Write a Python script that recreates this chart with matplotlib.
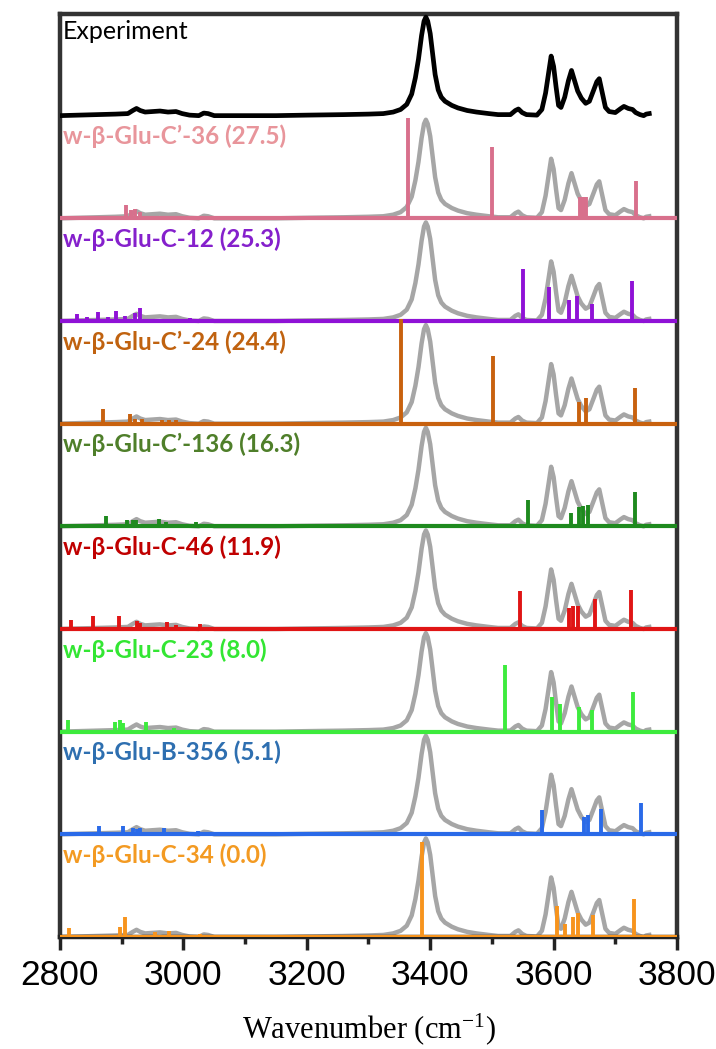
import numpy as np
import matplotlib.pyplot as plt

plt.rcParams['mathtext.fontset'] = 'custom'
plt.rcParams['mathtext.rm'] = 'Liberation Serif'
plt.rcParams['mathtext.it'] = 'Liberation Serif:italic'

spec_wn = [2800, 2830, 2860, 2890, 2910, 2918, 2924, 2930, 2938, 2950, 2962, 2975, 2988, 2998,
           3010, 3025, 3033, 3040, 3050, 3100, 3150, 3200, 3260, 3300, 3324, 3340, 3352, 3362,
           3370, 3376, 3381, 3386, 3390, 3393, 3396, 3400, 3404, 3408, 3413, 3418, 3424, 3435,
           3445, 3460, 3475, 3495, 3510, 3530, 3538, 3543, 3549, 3556, 3573, 3581, 3587, 3592,
           3596, 3600, 3604, 3608, 3612, 3618, 3624, 3629, 3634, 3639, 3645, 3652, 3658, 3665,
           3670, 3674, 3679, 3684, 3690, 3700, 3709, 3714, 3721, 3728, 3733, 3740, 3746, 3750, 3755]
spec_int = [0.0, 0.005, 0.01, 0.015, 0.02, 0.05, 0.07, 0.05, 0.035, 0.04, 0.045, 0.035, 0.04, 0.02,
            0.005, 0.0, 0.025, 0.02, 0.0, 0.0, 0.0, 0.005, 0.01, 0.015, 0.02, 0.035, 0.06, 0.11,
            0.21, 0.37, 0.55, 0.78, 0.92, 0.96, 0.92, 0.80, 0.60, 0.40, 0.25, 0.18, 0.14, 0.10,
            0.075, 0.05, 0.035, 0.02, 0.01, 0.01, 0.05, 0.065, 0.03, 0.01, 0.005, 0.06, 0.22, 0.42,
            0.58, 0.48, 0.28, 0.10, 0.08, 0.18, 0.34, 0.44, 0.34, 0.24, 0.17, 0.12, 0.14, 0.25,
            0.33, 0.36, 0.22, 0.08, 0.04, 0.03, 0.07, 0.09, 0.07, 0.06, 0.03, 0.01, 0.0, 0.015, 0.02]

# computed stick spectra, bottom panel first
labels = ["w-β-Glu-C-34 (0.0)", "w-β-Glu-B-356 (5.1)", "w-β-Glu-C-23 (8.0)",
          "w-β-Glu-C-46 (11.9)", "w-β-Glu-C\u2019-136 (16.3)", "w-β-Glu-C\u2019-24 (24.4)",
          "w-β-Glu-C-12 (25.3)", "w-β-Glu-C\u2019-36 (27.5)"]
bar_colors = ['#f7941d', '#2a6ae8', '#3deb3d', '#e01515', '#1e8a1e', '#c8610e', '#8f12d6', '#d8708c']
text_colors = ['#f39a22', '#2e6fb0', '#33e633', '#c00000', '#4f7f2a', '#c0620f', '#8520cc', '#e8959b']

c34_wn = [2815, 2862, 2897, 2905, 2954, 2977, 3027, 3387, 3606, 3619, 3631, 3639, 3664, 3730]
c34_int = [0.09, 0.02, 0.10, 0.19, 0.05, 0.06, 0.03, 0.93, 0.30, 0.13, 0.19, 0.23, 0.21, 0.37]
b356_wn = [2863, 2902, 2918, 2924, 2929, 2968, 3023, 3582, 3649, 3655, 3677, 3741]
b356_int = [0.08, 0.08, 0.06, 0.05, 0.06, 0.06, 0.03, 0.24, 0.17, 0.19, 0.25, 0.31]
c23_wn = [2813, 2889, 2897, 2902, 2939, 2984, 3522, 3598, 3610, 3641, 3663, 3728]
c23_int = [0.11, 0.09, 0.11, 0.08, 0.09, 0.04, 0.65, 0.34, 0.27, 0.24, 0.21, 0.39]
c46_wn = [2818, 2854, 2896, 2924, 2929, 2973, 2988, 3027, 3545, 3625, 3631, 3640, 3667, 3726]
c46_int = [0.09, 0.13, 0.13, 0.08, 0.06, 0.07, 0.04, 0.05, 0.37, 0.20, 0.22, 0.22, 0.29, 0.38]
c136_wn = [2874, 2908, 2918, 2923, 2961, 2972, 3020, 3558, 3628, 3641, 3647, 3655, 3732]
c136_int = [0.10, 0.065, 0.065, 0.06, 0.07, 0.04, 0.04, 0.26, 0.13, 0.19, 0.20, 0.21, 0.33]
c24_wn = [2870, 2913, 2922, 2933, 2966, 2977, 2988, 3353, 3501, 3641, 3652, 3732]
c24_int = [0.14, 0.09, 0.05, 0.05, 0.04, 0.04, 0.04, 1.02, 0.66, 0.21, 0.25, 0.35]
c12_wn = [2828, 2843, 2862, 2878, 2891, 2905, 2921, 2930, 3011, 3550, 3592, 3625, 3638, 3663, 3727]
c12_int = [0.065, 0.04, 0.09, 0.04, 0.10, 0.05, 0.08, 0.13, 0.03, 0.51, 0.33, 0.20, 0.24, 0.17, 0.39]
c36_wn = [2907, 2915, 2922, 2930, 3364, 3500, 3643, 3648, 3653, 3733]
c36_int = [0.13, 0.08, 0.09, 0.06, 0.98, 0.69, 0.21, 0.21, 0.21, 0.36]

sticks = [(c34_wn, c34_int), (b356_wn, b356_int), (c23_wn, c23_int), (c46_wn, c46_int),
          (c136_wn, c136_int), (c24_wn, c24_int), (c12_wn, c12_int), (c36_wn, c36_int)]

fig, ax = plt.subplots(figsize=(7.16, 10.49), dpi=100)
fig.subplots_adjust(left=60/716, right=677/716, bottom=112/1049, top=1035/1049)

spec = np.array(spec_int)
lab_font = ['Lato', 'Noto Sans', 'DejaVu Sans']

for k, (wn, inten) in enumerate(sticks):
    ax.plot(spec_wn, spec + k, color='#a6a6a6', lw=3.2, zorder=2, solid_joinstyle='round')
    ax.axhline(k, color=bar_colors[k], lw=3, zorder=3)
    ax.vlines(wn, k, k + np.array(inten), color=bar_colors[k], lw=2.8, zorder=4)
    ax.text(2805, k + 1 - 0.28, labels[k], color=text_colors[k], fontsize=17.5,
            fontweight='bold', family=lab_font, va='baseline', ha='left', zorder=6)

# experiment on top
ax.plot(spec_wn, spec + 8, color='black', lw=3.4, zorder=5, solid_joinstyle='round')
ax.text(2805, 8.75, "Experiment", color='black', fontsize=18, family=lab_font,
        va='baseline', ha='left', zorder=6)

ax.set_xlim(2800, 3800)
ax.set_ylim(0, 8.99)
ax.set_yticks([])
ax.set_xticks(range(2800, 3801, 200))
ax.set_xticks(range(2900, 3800, 200), minor=True)
ax.tick_params(axis='x', which='major', length=9.5, width=2.5, direction='out',
               labelsize=25.5, pad=6, color='#222222')
ax.tick_params(axis='x', which='minor', length=5, width=2.5, direction='out', color='#222222')
for t in ax.get_xticklabels():
    t.set_family('Liberation Sans')
for s in ax.spines.values():
    s.set_linewidth(3.2)
    s.set_color('#333333')
ax.spines['bottom'].set_color('#222222')

ax.set_xlabel(r"Wavenumber (cm$^{\mathrm{-1}}$)", family='Liberation Serif', fontsize=22, labelpad=14)

fig.savefig('out.png', dpi=100)
